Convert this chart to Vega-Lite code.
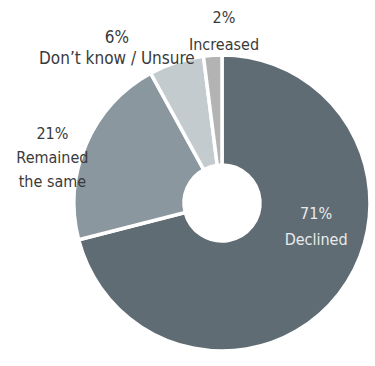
{
  "$schema": "https://vega.github.io/schema/vega-lite/v6.json",
  "width": 308,
  "height": 326,
  "padding": {"left": 68, "top": 40, "right": 0, "bottom": 0},
  "autosize": {"type": "none"},
  "background": "white",
  "config": {"view": {"stroke": null}},
  "data": {
    "values": [
      {"idx": 1, "cat": "Declined", "value": 71, "label": "71%\nDeclined"},
      {"idx": 2, "cat": "Remained the same", "value": 21, "label": "21%\nRemained\nthe same"},
      {"idx": 3, "cat": "Don't know / Unsure", "value": 6, "label": "6%\nDon’t know / Unsure"},
      {"idx": 4, "cat": "Increased", "value": 2, "label": "2%\nIncreased"}
    ]
  },
  "encoding": {
    "theta": {"field": "value", "type": "quantitative", "stack": true},
    "order": {"field": "idx", "type": "quantitative"}
  },
  "layer": [
    {
      "mark": {"type": "arc", "outerRadius": 148, "innerRadius": 38, "stroke": "white", "strokeWidth": 3.5},
      "encoding": {
        "color": {
          "field": "cat", "type": "nominal", "legend": null,
          "scale": {
            "domain": ["Declined", "Remained the same", "Don't know / Unsure", "Increased"],
            "range": ["#5f6c73", "#8a979e", "#c3cbce", "#b3b3b3"]
          }
        }
      }
    },
    {
      "mark": {"type": "text", "radius": 90, "dx": 23, "dy": -44, "font": "DejaVu Sans Condensed", "fontSize": 16, "lineBreak": "\n", "lineHeight": 26, "fill": "#e8ebec", "baseline": "middle", "align": "center"},
      "encoding": {"text": {"condition": {"test": "datum.cat === 'Declined'", "field": "label"}, "value": ""}}
    },
    {
      "mark": {"type": "text", "radius": 175, "dx": -9, "dy": 1, "font": "DejaVu Sans Condensed", "fontSize": 16, "lineBreak": "\n", "lineHeight": 24, "fill": "#3a3a3a", "baseline": "middle", "align": "center"},
      "encoding": {"text": {"condition": {"test": "datum.cat === 'Remained the same'", "field": "label"}, "value": ""}}
    },
    {
      "mark": {"type": "text", "radius": 175, "dx": -51, "dy": 1, "font": "DejaVu Sans Condensed", "fontSize": 17, "lineBreak": "\n", "lineHeight": 21, "fill": "#3a3a3a", "baseline": "middle", "align": "center"},
      "encoding": {"text": {"condition": {"test": "datum.cat === \"Don't know / Unsure\"", "field": "label"}, "value": ""}}
    },
    {
      "mark": {"type": "text", "radius": 175, "dx": 13, "dy": -10, "font": "DejaVu Sans Condensed", "fontSize": 16, "lineBreak": "\n", "lineHeight": 27, "fill": "#3a3a3a", "baseline": "middle", "align": "center"},
      "encoding": {"text": {"condition": {"test": "datum.cat === 'Increased'", "field": "label"}, "value": ""}}
    }
  ]
}
